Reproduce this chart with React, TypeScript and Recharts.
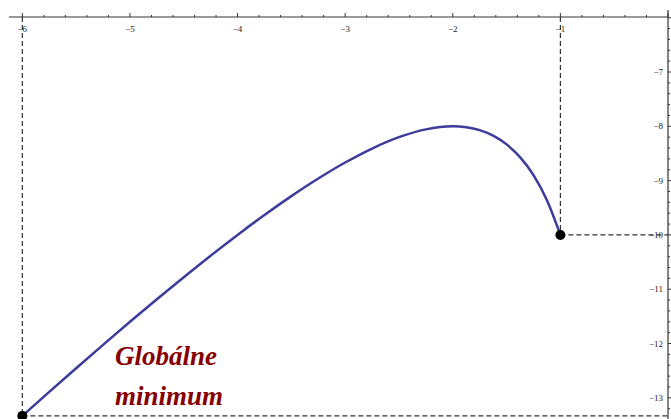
import React from "react";
import { LineChart, Line, XAxis, YAxis, ReferenceLine, ReferenceDot } from "recharts";

// Curve values
const curveX = [-6, -5.75, -5.5, -5.25, -5, -4.75, -4.5, -4.25, -4, -3.75, -3.5, -3.25, -3, -2.75, -2.5, -2.25, -2, -1.875, -1.75, -1.625, -1.5, -1.375, -1.25, -1.125, -1];
const curveY = [-13.333, -12.891, -12.455, -12.024, -11.6, -11.184, -10.778, -10.382, -10, -9.633, -9.286, -8.962, -8.667, -8.409, -8.2, -8.056, -8, -8.017, -8.071, -8.173, -8.333, -8.568, -8.9, -9.361, -10];

const xMajorLabels = [-6, -5, -4, -3, -2, -1];
const yMajorLabels = [-7, -8, -9, -10, -11, -12, -13];

const minPoint = { x: -6, y: -13.333 };
const endPoint = { x: -1, y: -10 };

const annotationLines = ["Globálne", "minimum"];

const X_DOMAIN: [number, number] = [-6.124, 0];
const Y_DOMAIN: [number, number] = [-13.39, -5.987];

const data = curveX.map((x, i) => ({ x, y: curveY[i] }));

const xTicks: number[] = [];
for (let i = 0; i <= 30; i++) xTicks.push((-30 + i) / 5);
const yTicks: number[] = [];
for (let k = -66; k <= -30; k++) yTicks.push(k / 5);

const isMajor = (v: number) => Math.abs(v - Math.round(v)) < 1e-6;
const fmt = (v: number) => (v < 0 ? "\u2212" + Math.abs(Math.round(v)) : String(Math.round(v)));

const tickColor = "#333";
const labelColor = "#222";
const fontFamily = "'Liberation Serif', 'Times New Roman', serif";

const XTick = (props: any) => {
  const { x, payload } = props;
  const y = 17;
  const v = payload.value;
  const major = isMajor(v);
  const show = major && xMajorLabels.includes(Math.round(v));
  return (
    <g>
      <line x1={x} x2={x} y1={y} y2={y - (major ? 4 : 2)} stroke={tickColor} strokeWidth={1} />
      {show && (
        <text x={x} y={y + 15} textAnchor="middle" fontSize={9} fontFamily={fontFamily} fill={labelColor}>
          {fmt(v)}
        </text>
      )}
    </g>
  );
};

const YTick = (props: any) => {
  const { y, payload } = props;
  const x = 668;
  const v = payload.value;
  const major = isMajor(v);
  const show = major && yMajorLabels.includes(Math.round(v));
  return (
    <g>
      <line x1={x} x2={x + (major ? 4 : 2)} y1={y} y2={y} stroke={tickColor} strokeWidth={1} />
      {show && (
        <text x={x - 5} y={y + 3} textAnchor="end" fontSize={9} fontFamily={fontFamily} fill={labelColor}>
          {fmt(v)}
        </text>
      )}
    </g>
  );
};

const dashStyle = { stroke: "#333", strokeWidth: 1.2, strokeDasharray: "5 3" };

export default function App() {
  return (
    <div style={{ position: "absolute", left: 0, top: 0, width: 671, height: 419, background: "#fff" }}>
      <LineChart width={671} height={419} data={data} margin={{ top: 16, right: 2, bottom: 0, left: 9 }}>
        <XAxis
          type="number"
          dataKey="x"
          domain={X_DOMAIN}
          allowDataOverflow
          orientation="top"
          height={1}
          ticks={xTicks}
          interval={0}
          tickLine={false}
          tickSize={0}
          tickMargin={0}
          tick={<XTick />}
          axisLine={false}
        />
        <YAxis
          type="number"
          domain={Y_DOMAIN}
          allowDataOverflow
          orientation="right"
          width={1}
          ticks={yTicks}
          interval={0}
          tickLine={false}
          tickSize={0}
          tickMargin={0}
          tick={<YTick />}
          axisLine={false}
        />
        <ReferenceLine segment={[{ x: minPoint.x, y: Y_DOMAIN[1] }, { x: minPoint.x, y: minPoint.y }]} {...dashStyle} />
        <ReferenceLine segment={[{ x: minPoint.x, y: minPoint.y }, { x: X_DOMAIN[1], y: minPoint.y }]} {...dashStyle} />
        <ReferenceLine segment={[{ x: endPoint.x, y: Y_DOMAIN[1] }, { x: endPoint.x, y: endPoint.y }]} {...dashStyle} />
        <ReferenceLine segment={[{ x: endPoint.x, y: endPoint.y }, { x: X_DOMAIN[1], y: endPoint.y }]} {...dashStyle} />
        <ReferenceLine y={Y_DOMAIN[1]} stroke={tickColor} strokeWidth={1} ifOverflow="visible" />
        <ReferenceLine
          segment={[{ x: X_DOMAIN[1], y: -5.86 }, { x: X_DOMAIN[1], y: Y_DOMAIN[0] }]}
          stroke={tickColor}
          strokeWidth={1.2}
          ifOverflow="visible"
        />
        <Line
          type="monotone"
          dataKey="y"
          stroke="#3d3c9b"
          strokeWidth={2.5}
          dot={false}
          isAnimationActive={false}
        />
        <ReferenceDot x={minPoint.x} y={minPoint.y} r={5} fill="#000" stroke="none" ifOverflow="visible" />
        <ReferenceDot x={endPoint.x} y={endPoint.y} r={5} fill="#000" stroke="none" ifOverflow="visible" />
      </LineChart>
      <div
        style={{
          position: "absolute",
          left: 115,
          top: 336,
          fontFamily,
          fontWeight: "bold",
          fontStyle: "italic",
          fontSize: 27,
          lineHeight: "40px",
          color: "#870000",
          whiteSpace: "nowrap",
        }}
      >
        {annotationLines.map((t) => (
          <div key={t}>{t}</div>
        ))}
      </div>
    </div>
  );
}
